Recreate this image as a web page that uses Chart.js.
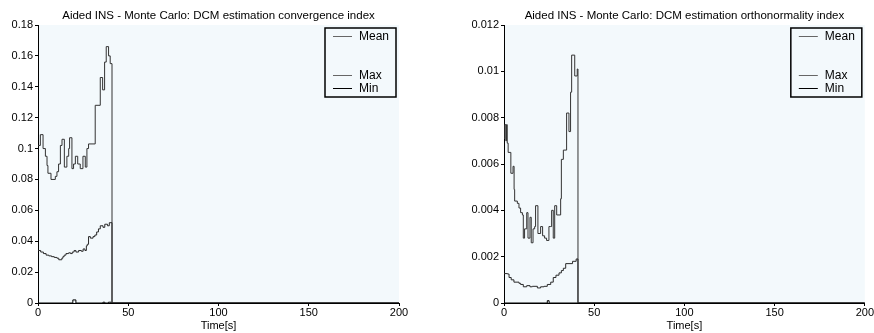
<!DOCTYPE html>
<html>
<head>
<meta charset="utf-8">
<script src="https://cdn.jsdelivr.net/npm/chart.js@4.4.0/dist/chart.umd.min.js"></script>
<style>
body{margin:0;background:#fff;}
#wrap{position:relative;width:874px;height:333px;}
canvas{position:absolute;top:0;}
</style>
</head>
<body>
<div id="wrap">
  <canvas id="c1" width="437" height="333" style="left:0"></canvas>
  <canvas id="c2" width="437" height="333" style="left:437px"></canvas>
</div>
<script>
// ---- data (time in s) ----
var xTickLabels = ['0', '50', '100', '150', '200'];
var leftYLabels = ['0', '0.02', '0.04', '0.06', '0.08', '0.1', '0.12', '0.14', '0.16', '0.18'];
var rightYLabels = ['0', '0.002', '0.004', '0.006', '0.008', '0.01', '0.012'];
var legendLabels = ['Mean', 'Max', 'Min'];

var leftTitle = 'Aided INS - Monte Carlo: DCM estimation convergence index';
var rightTitle = 'Aided INS - Monte Carlo: DCM estimation orthonormality index';

// convergence index
var convMaxT = [0, 1.3, 2.8, 4.1, 5, 5.5, 7.2, 9.6, 10.5, 11.4, 12.4, 13.3, 14.6, 16, 17, 17.5, 18.8, 19.7, 20.7, 22, 23.4, 24.9, 26.2, 27.1, 28, 31.7, 34.5, 35.8, 36.9, 37.8, 39.1, 40, 41, 200];
var convMaxV = [0.102, 0.109, 0.100, 0.095, 0.089, 0.084, 0.080, 0.082, 0.085, 0.090, 0.102, 0.106, 0.088, 0.095, 0.100, 0.107, 0.087, 0.090, 0.095, 0.090, 0.087, 0.095, 0.088, 0.100, 0.103, 0.128, 0.146, 0.138, 0.156, 0.166, 0.160, 0.155, 0, 0];
var convMeanT = [0, 1.5, 3, 4.5, 6, 7.5, 9, 10.5, 11.5, 13.2, 13.8, 14.5, 15.5, 17, 18, 19, 20, 21, 22.5, 24, 25, 26, 26.8, 27.3, 28, 29, 30.5, 31.5, 32.5, 33.5, 34.5, 36, 37, 38.5, 39.5, 41, 200];
var convMeanV = [0.034, 0.033, 0.032, 0.031, 0.0305, 0.030, 0.0295, 0.029, 0.028, 0.029, 0.030, 0.031, 0.032, 0.0325, 0.032, 0.033, 0.034, 0.033, 0.034, 0.0335, 0.035, 0.034, 0.037, 0.038, 0.043, 0.042, 0.043, 0.044, 0.046, 0.048, 0.050, 0.049, 0.051, 0.050, 0.052, 0, 0];
var convMinT = [0, 19.3, 21, 36, 37, 39, 40.5, 200];
var convMinV = [0, 0.002, 0, 0.0005, 0, 0.0005, 0, 0];

// orthonormality index
var orthMaxT = [0, 0.4, 1.0, 1.4, 1.8, 2.3, 3.8, 5.0, 5.6, 5.9, 7.4, 8.3, 9.2, 10.2, 10.7, 11.4, 12.6, 13.3, 14.4, 15.1, 16.1, 17, 17.5, 18.8, 20.3, 21.4, 22.5, 23.6, 24.9, 25.9, 26.4, 27.3, 28.1, 29.2, 31.4, 31.8, 32.9, 34.7, 36, 36.9, 37.5, 39.2, 40.6, 41, 200];
var orthMaxV = [0.0071, 0.0077, 0.0070, 0.0077, 0.0069, 0.0065, 0.0056, 0.0059, 0.0049, 0.0044, 0.0043, 0.0041, 0.0039, 0.0038, 0.0028, 0.0032, 0.0039, 0.0028, 0.0037, 0.0026, 0.0032, 0.0033, 0.0042, 0.0030, 0.0033, 0.0029, 0.0028, 0.0027, 0.0033, 0.0033, 0.0040, 0.0028, 0.0042, 0.0038, 0.0045, 0.0062, 0.0066, 0.0082, 0.0074, 0.0091, 0.0107, 0.0098, 0.0101, 0, 0];
var orthMeanT = [0, 2, 2.8, 4, 5.5, 8.3, 9.2, 10.7, 12.6, 14.4, 15.7, 18.5, 20.3, 22.2, 24, 25.9, 27.3, 28.8, 30.5, 31.8, 32.9, 34.2, 38, 40, 41, 200];
var orthMeanV = [0.00127, 0.00125, 0.0011, 0.0010, 0.0009, 0.00085, 0.0008, 0.0007, 0.00075, 0.0007, 0.00072, 0.00065, 0.0007, 0.00072, 0.0008, 0.0009, 0.0011, 0.0012, 0.0013, 0.0014, 0.0015, 0.0017, 0.0018, 0.0019, 0, 0];
var orthMinT = [0, 24, 25, 200];
var orthMinV = [0, 0.0001, 0, 0];

var FONT = '"Liberation Sans", Arial, sans-serif';
var plotBg = '#f3f9fc';
var lineColors = ['#2a2a2a', '#333333', '#000000'];
var legendSample = ['#666666', '#666666', '#000000'];

function pts(t, v) {
  var out = [];
  for (var i = 0; i < t.length; i++) out.push({x: t[i], y: v[i]});
  return out;
}

var decorate = {
  id: 'decorate',
  beforeDraw: function (chart) {
    var a = chart.chartArea, c = chart.ctx;
    c.save();
    c.fillStyle = plotBg;
    c.fillRect(a.left, a.top, a.right - a.left, a.bottom - a.top);
    c.restore();
  },
  afterDraw: function (chart) {
    var a = chart.chartArea, c = chart.ctx;
    var o = chart.options.plugins.decorate;
    c.save();
    c.fillStyle = '#000';
    c.font = '11.5px ' + FONT;
    c.textAlign = 'center';
    c.textBaseline = 'middle';
    c.fillText(o.title, (a.left + a.right) / 2, 16);
    // legend box
    var w = 71, h = 69;
    var bx = a.right - 3 - w, by = a.top + 3;
    c.fillStyle = plotBg;
    c.fillRect(bx, by, w, h);
    c.strokeStyle = '#000';
    c.lineWidth = 1.5;
    c.strokeRect(bx, by, w, h);
    var rows = [0, 3, 4];
    c.textAlign = 'left';
    for (var i = 0; i < legendLabels.length; i++) {
      var y = by + 8 + rows[i] * 13;
      c.strokeStyle = legendSample[i];
      c.lineWidth = 1;
      c.beginPath();
      c.moveTo(bx + 8, y + 0.5);
      c.lineTo(bx + 27, y + 0.5);
      c.stroke();
      c.fillStyle = '#000';
      c.font = '12px ' + FONT;
      c.fillText(legendLabels[i], bx + 34, y + 1);
    }
    c.restore();
  }
};

function makeChart(id, title, yMax, yStep, yLabels, yWidth, padRight, series) {
  var ds = [];
  for (var i = 0; i < 3; i++) {
    ds.push({
      label: legendLabels[i],
      data: pts(series[i][0], series[i][1]),
      borderColor: lineColors[i],
      borderWidth: 1,
      pointRadius: 0,
      stepped: 'before',
      fill: false
    });
  }
  return new Chart(document.getElementById(id), {
    type: 'line',
    data: {datasets: ds},
    plugins: [decorate],
    options: {
      responsive: false,
      animation: false,
      layout: {padding: {left: 0, right: padRight, top: 25, bottom: 0}},
      plugins: {
        legend: {display: false},
        tooltip: {enabled: false},
        decorate: {title: title}
      },
      scales: {
        x: {
          type: 'linear', min: 0, max: 200,
          afterFit: function (s) { s.height = 30; },
          ticks: {
            stepSize: 50, autoSkip: false, maxRotation: 0, padding: 0,
            color: '#000', font: {family: FONT, size: 11},
            callback: function (v, i) { return xTickLabels[i]; }
          },
          grid: {drawOnChartArea: false, tickLength: 3, color: '#000'},
          border: {color: '#000', width: 1},
          title: {display: true, text: 'Time[s]', color: '#000', font: {family: FONT, size: 11}, padding: {top: 0, bottom: 0}}
        },
        y: {
          min: 0, max: yMax,
          afterFit: function (s) { s.width = yWidth; },
          ticks: {
            stepSize: yStep, autoSkip: false, padding: 2,
            color: '#000', font: {family: FONT, size: 11},
            callback: function (v, i) { return yLabels[i]; }
          },
          grid: {drawOnChartArea: false, tickLength: 3, color: '#000'},
          border: {color: '#000', width: 1}
        }
      }
    }
  });
}

makeChart('c1', leftTitle, 0.18, 0.02, leftYLabels, 38, 38, [
  [convMeanT, convMeanV], [convMaxT, convMaxV], [convMinT, convMinV]
]);
makeChart('c2', rightTitle, 0.012, 0.002, rightYLabels, 67, 9, [
  [orthMeanT, orthMeanV], [orthMaxT, orthMaxV], [orthMinT, orthMinV]
]);
</script>
</body>
</html>
